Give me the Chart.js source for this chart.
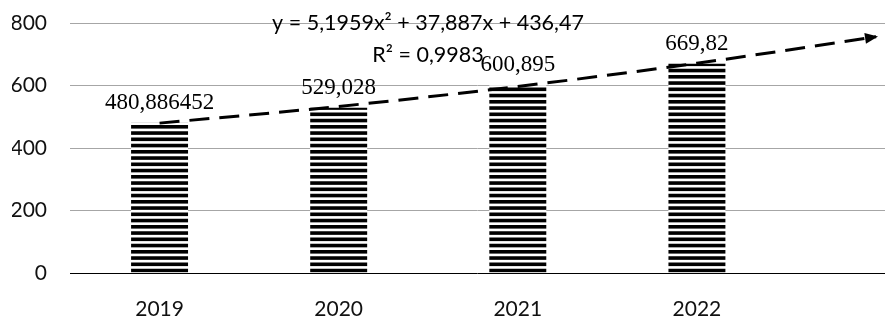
<!DOCTYPE html>
<html>
<head>
<meta charset="utf-8">
<script src="https://cdn.jsdelivr.net/npm/chart.js@4.4.0/dist/chart.umd.min.js"></script>
<style>
  html, body { margin: 0; padding: 0; background: #fff; }
</style>
</head>
<body>
<canvas id="grafico" width="885" height="316"></canvas>
<script>
const anios = ['2019', '2020', '2021', '2022'];
const valores = [480.886452, 529.028, 600.895, 669.82];
const etiquetas = ['480,886452', '529,028', '600,895', '669,82'];
// linea de tendencia polinomica tal como sale en el grafico (con un periodo de pronostico)
const tendencia = [479.6, 533.0, 596.9, 671.2, 755.8];
const ecuacion = ['y = 5,1959x\u00B2 + 37,887x + 436,47', 'R\u00B2 = 0,9983'];

const fuenteEjes = { family: 'Lato', size: 21 };

// relleno de rayas horizontales para las barras
const rayas = (() => {
  const c = document.createElement('canvas');
  c.width = 8;
  c.height = 25;
  const g = c.getContext('2d');
  g.fillStyle = '#fff';
  g.fillRect(0, 0, 8, 25);
  g.fillStyle = '#000';
  for (let i = 0; i < 4; i++) g.fillRect(0, i * 6.25, 8, 3.6);
  return g.createPattern(c, 'repeat');
})();

const etiquetasBarras = {
  id: 'etiquetasBarras',
  afterDatasetsDraw(chart) {
    const ctx = chart.ctx;
    const meta = chart.getDatasetMeta(0);
    ctx.save();
    ctx.font = '23px "Liberation Serif"';
    ctx.fillStyle = '#000';
    ctx.textAlign = 'center';
    ctx.textBaseline = 'alphabetic';
    meta.data.forEach((bar, i) => ctx.fillText(etiquetas[i], bar.x, bar.y - 14));
    ctx.restore();
  }
};

const flechaTendencia = {
  id: 'flechaTendencia',
  afterDatasetsDraw(chart) {
    const pts = chart.getDatasetMeta(1).data;
    const p1 = pts[pts.length - 1];
    const p0 = pts[pts.length - 2];
    const ang = Math.atan2(p1.y - p0.y, p1.x - p0.x);
    const ctx = chart.ctx;
    ctx.save();
    ctx.translate(p1.x, p1.y);
    ctx.rotate(ang);
    ctx.fillStyle = '#000';
    ctx.beginPath();
    ctx.moveTo(2, 0);
    ctx.lineTo(-11, -5.5);
    ctx.lineTo(-11, 5.5);
    ctx.closePath();
    ctx.fill();
    ctx.restore();
  }
};

const textoEcuacion = {
  id: 'textoEcuacion',
  afterDraw(chart) {
    const { ctx, chartArea } = chart;
    ctx.save();
    ctx.font = '21.5px Lato';
    ctx.fillStyle = '#000';
    ctx.textAlign = 'center';
    ctx.textBaseline = 'alphabetic';
    ctx.fillText(ecuacion[0], chartArea.left + 358, chartArea.top + 7);
    ctx.fillText(ecuacion[1], chartArea.left + 358, chartArea.top + 39);
    ctx.restore();
  }
};

new Chart(document.getElementById('grafico'), {
  data: {
    datasets: [
      {
        type: 'bar',
        label: 'Valor',
        data: valores.map((v, i) => ({ x: i + 1, y: v })),
        backgroundColor: rayas,
        borderWidth: 0,
        categoryPercentage: 1,
        barPercentage: 0.318,
        order: 1
      },
      {
        type: 'line',
        label: 'Tendencia',
        data: tendencia.map((v, i) => ({ x: i + 1, y: v })),
        borderColor: '#000',
        borderWidth: 3,
        borderDash: [20, 10],
        pointRadius: 0,
        cubicInterpolationMode: 'monotone',
        fill: false,
        order: 0
      }
    ]
  },
  options: {
    responsive: false,
    animation: false,
    devicePixelRatio: 1,
    layout: { padding: { top: 23, left: 12, right: 0, bottom: 0 } },
    plugins: {
      legend: { display: false },
      tooltip: { enabled: false }
    },
    scales: {
      x: {
        type: 'linear',
        min: 0.5,
        max: 5.05,
        offset: false,
        afterBuildTicks: (axis) => {
          axis.ticks = anios.map((a, i) => ({ value: i + 1 }));
        },
        afterFit: (axis) => {
          axis.height = 43;
          axis.paddingLeft = 0;
          axis.paddingRight = 0;
        },
        ticks: {
          callback: (v) => anios[Math.round(v) - 1],
          font: fuenteEjes,
          color: '#111',
          padding: 24,
          maxRotation: 0
        },
        grid: { display: false, drawTicks: false, offset: false },
        border: { display: false }
      },
      y: {
        min: 0,
        max: 800,
        afterFit: (axis) => {
          axis.width = 58;
          axis.paddingTop = 0;
          axis.paddingBottom = 0;
        },
        ticks: {
          stepSize: 200,
          font: fuenteEjes,
          color: '#111',
          padding: 23
        },
        grid: {
          drawTicks: false,
          color: (c) => c.tick.value === 0 ? '#000' : '#a6a6a6',
          lineWidth: 1
        },
        border: { display: false }
      }
    }
  },
  plugins: [etiquetasBarras, flechaTendencia, textoEcuacion]
});
</script>
</body>
</html>
